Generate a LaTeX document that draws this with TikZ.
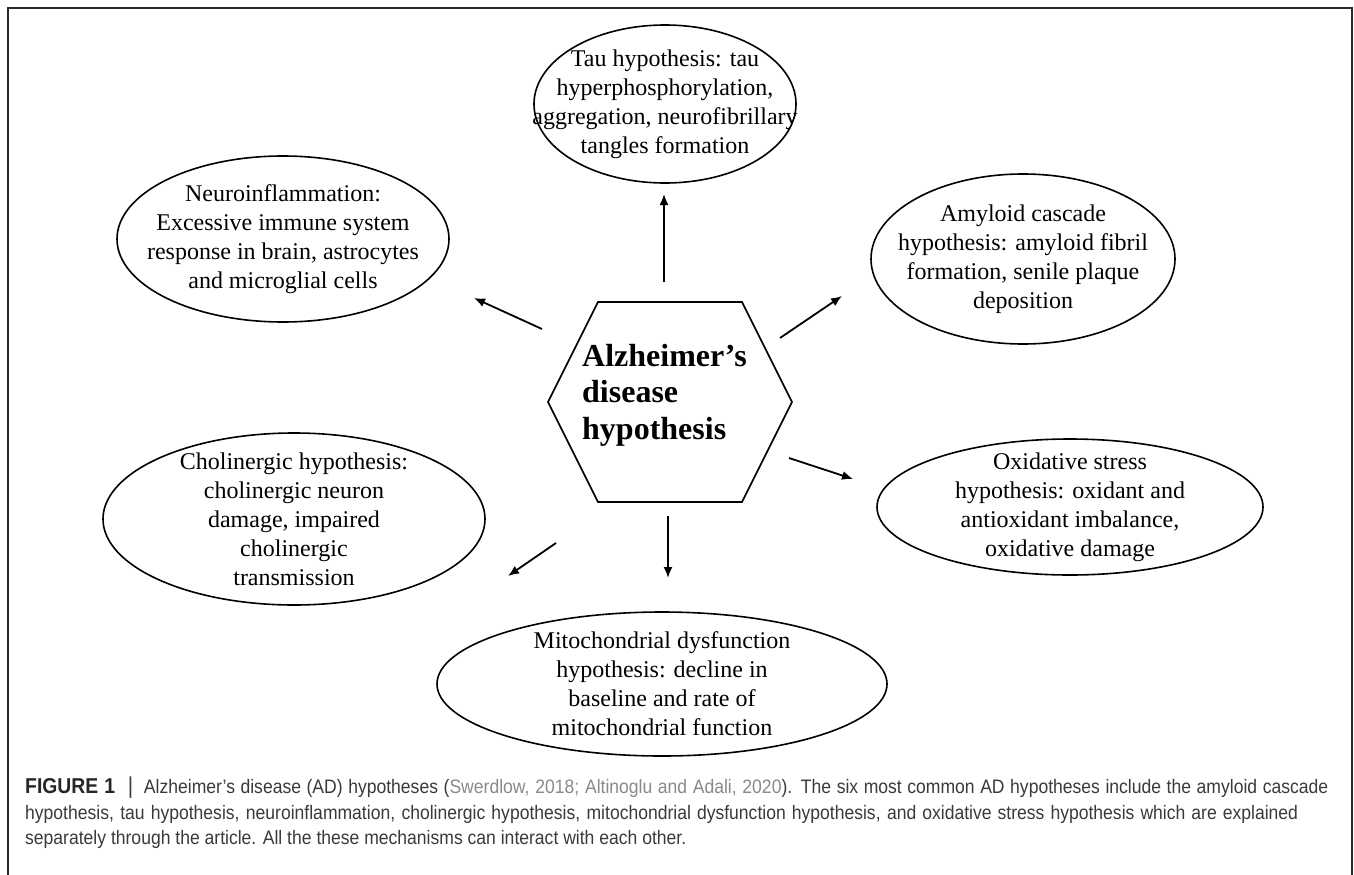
\documentclass[tikz,border=0pt]{standalone}
\usepackage{fontspec}
\setmainfont{Liberation Serif}
\newfontfamily\capfont[FakeStretch=0.9]{Liberation Sans}
\usetikzlibrary{arrows.meta}
\definecolor{captxt}{HTML}{3A3A3A}
\definecolor{capcite}{HTML}{8A8A8A}
\definecolor{framec}{HTML}{2A2A2A}
\tikzset{
  hyptext/.style={inner sep=0pt, align=center, font=\fontsize{24}{29}\selectfont},
  hypline/.style={draw=black, line width=1.6pt},
  conn/.style={line width=1.8pt, -{Latex[length=11pt,width=9pt]}},
  capline/.style={anchor=base west, inner sep=0pt, text=captxt,
    font=\capfont\fontsize{19.5}{24}\selectfont},
}
\begin{document}
\begin{tikzpicture}[x=1pt,y=-1pt]
\useasboundingbox (0,0) rectangle (1354,875);
\fill[white] (0,0) rectangle (1354,875);
\draw[framec, line width=1.4pt] (8,890) -- (8,8) -- (1352,8) -- (1352,890);

% hypotheses
\node[hyptext] (tau) at (665,104)
  {Tau hypothesis: tau\\hyperphosphorylation,\\aggregation, neurofibrillary\\tangles formation};
\draw[hypline] (tau.center) ellipse [x radius=131pt, y radius=79pt];
\node[hyptext] (neuro) at (283,239)
  {Neuroinflammation:\\Excessive immune system\\response in brain, astrocytes\\and microglial cells};
\draw[hypline] (neuro.center) ellipse [x radius=166pt, y radius=83pt];
\node[hyptext] (amy) at (1023,259)
  {Amyloid cascade\\hypothesis: amyloid fibril\\formation, senile plaque\\deposition};
\draw[hypline] (amy.center) ellipse [x radius=152pt, y radius=85pt];
\node[hyptext] (chol) at (294,519)
  {Cholinergic hypothesis:\\cholinergic neuron\\damage, impaired\\cholinergic\\transmission};
\draw[hypline] (chol.center) ellipse [x radius=191pt, y radius=86pt];
\node[hyptext] (oxi) at (1070,507)
  {Oxidative stress\\hypothesis: oxidant and\\antioxidant imbalance,\\oxidative damage};
\draw[hypline] (oxi.center) ellipse [x radius=193pt, y radius=68pt];
\node[hyptext] (mito) at (662,684)
  {Mitochondrial dysfunction\\hypothesis: decline in\\baseline and rate of\\mitochondrial function};
\draw[hypline] (mito.center) ellipse [x radius=225pt, y radius=72pt];

% hexagon
\coordinate (h1) at (598,302);
\coordinate (h2) at (742,302);
\coordinate (h3) at (792,402);
\coordinate (h4) at (742,502);
\coordinate (h5) at (598,502);
\coordinate (h6) at (548,402);
\draw[line width=1.6pt, line join=miter] (h1) -- (h2) -- (h3) -- (h4) -- (h5) -- (h6) -- cycle;
\node[align=left, anchor=west, inner sep=0pt, font=\bfseries\fontsize{32}{36.5}\selectfont] (ad) at (582,395)
  {Alzheimer’s\\disease\\hypothesis};

% arrows
\coordinate (s1) at (664,282); \coordinate (e1) at (664,194);
\coordinate (s2) at (542,329); \coordinate (e2) at (474,298);
\coordinate (s3) at (780,338); \coordinate (e3) at (842,296);
\coordinate (s4) at (789,458); \coordinate (e4) at (853,479);
\coordinate (s5) at (556,543); \coordinate (e5) at (508,576);
\coordinate (s6) at (668,516); \coordinate (e6) at (668,578);
\draw[conn] (s1) -- (e1);
\draw[conn] (s2) -- (e2);
\draw[conn] (s3) -- (e3);
\draw[conn] (s4) -- (e4);
\draw[conn] (s5) -- (e5);
\draw[conn] (s6) -- (e6);

% caption
\node[capline] (c1) at (25,793) {\makebox[1303pt][s]{{\fontsize{21.5}{24}\selectfont\textbf{\color{black!85}FIGURE 1}}\hspace{0.65em}{\fontsize{23}{24}\selectfont|}\hspace{0.55em}Alzheimer’s disease (AD) hypotheses (\textcolor{capcite}{Swerdlow, 2018; Altinoglu and Adali, 2020}). The six most common AD hypotheses include the amyloid cascade}};
\node[capline] (c2) at (25,819) {\makebox[1273pt][s]{hypothesis, tau hypothesis, neuroinflammation, cholinergic hypothesis, mitochondrial dysfunction hypothesis, and oxidative stress hypothesis which are explained}};
\node[capline] (c3) at (25,844) {separately through the article. All the these mechanisms can interact with each other.};
\end{tikzpicture}
\end{document}
